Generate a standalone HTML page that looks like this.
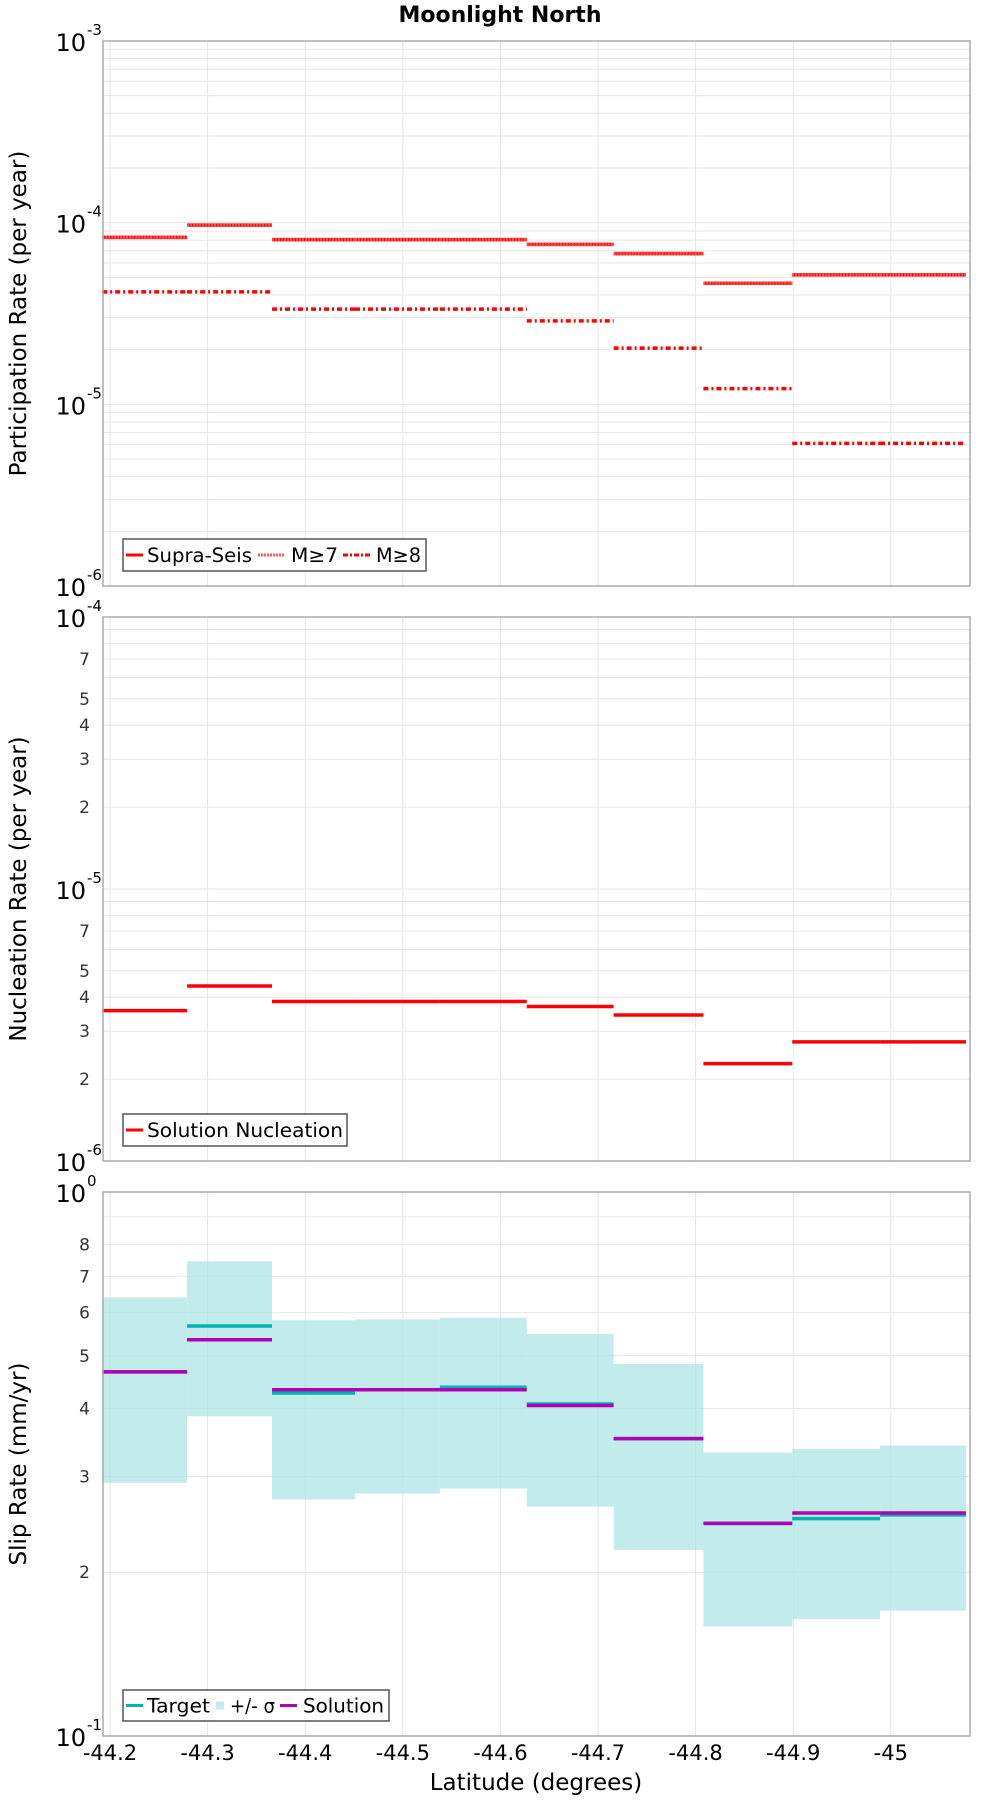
<!DOCTYPE html>
<html><head><meta charset="utf-8"><style>
html,body{margin:0;padding:0;background:#fff;}
svg{display:block;font-family:"DejaVu Sans","Liberation Sans",sans-serif;}
</style></head><body>
<svg id="chart" width="1000" height="1800" viewBox="0 0 1000 1800" xmlns="http://www.w3.org/2000/svg">
<text x="500" y="22" text-anchor="middle" font-size="22" font-weight="bold">Moonlight North</text>
<g id="g"></g>
</svg>
<script>
// bin edges (latitude)
const binEdges = [-44.192, -44.279, -44.366, -44.451, -44.538, -44.627, -44.716, -44.808, -44.899, -44.989, -45.077];
const xTicks = [-44.2, -44.3, -44.4, -44.5, -44.6, -44.7, -44.8, -44.9, -45.0];
const xTickLabels = ["-44.2","-44.3","-44.4","-44.5","-44.6","-44.7","-44.8","-44.9","-45"];
// participation
const supraSeis = [8.3e-5, 9.7e-5, 8.07e-5, 8.07e-5, 8.07e-5, 7.6e-5, 6.75e-5, 4.64e-5, 5.16e-5, 5.16e-5];
const m7 = [8.3e-5, 9.7e-5, 8.07e-5, 8.07e-5, 8.07e-5, 7.6e-5, 6.75e-5, 4.64e-5, 5.16e-5, 5.16e-5];
const m8 = [4.16e-5, 4.16e-5, 3.34e-5, 3.34e-5, 3.34e-5, 2.88e-5, 2.04e-5, 1.22e-5, 6.1e-6, 6.1e-6];
// nucleation
const nucleation = [3.57e-6, 4.40e-6, 3.86e-6, 3.86e-6, 3.86e-6, 3.70e-6, 3.44e-6, 2.28e-6, 2.74e-6, 2.74e-6];
// slip
const slipTarget = [0.467, 0.567, 0.427, 0.433, 0.4375, 0.4076, 0.352, 0.246, 0.251, 0.255];
const slipSolution = [0.467, 0.535, 0.433, 0.433, 0.433, 0.405, 0.352, 0.246, 0.257, 0.257];
const slipUpper = [0.640, 0.746, 0.581, 0.583, 0.587, 0.548, 0.483, 0.332, 0.337, 0.342];
const slipLower = [0.292, 0.387, 0.272, 0.279, 0.285, 0.264, 0.220, 0.159, 0.164, 0.170];

const NS = "http://www.w3.org/2000/svg";
const G = document.getElementById('g');
const L = 103, R = 970;
function xs(lat){ return 110 + (-44.2 - lat) / 0.1 * 97.6; }
function mk(tag, attrs, parent){ const e = document.createElementNS(NS, tag); for (const k in attrs) e.setAttribute(k, attrs[k]); (parent||G).appendChild(e); return e; }

function panel(name, top, bot, lo, hi, minorLabels, title){
  const g = mk('g', {});
  
  
  const ys = v => bot - (Math.log10(v) - lo) / (hi - lo) * (bot - top);
  mk('rect', {x:L, y:top, width:R-L, height:bot-top, fill:'#fff'}, g);
  const grid = mk('g', {stroke:'#e6e6e6', 'stroke-width':1}, g);
  
  
  xTicks.forEach(t => mk('line', {x1:xs(t), x2:xs(t), y1:top, y2:bot}, grid));
  for (let d = lo; d < hi; d++) {
    for (let m = 1; m <= 9; m++) {
      const v = m * Math.pow(10, d); const y = ys(v);
      if (m > 1) mk('line', {x1:L, x2:R, y1:y, y2:y}, grid);
      if (m > 1 && minorLabels.includes(m)) {
        const t = mk('text', {x:90, y:y+6, 'text-anchor':'end', 'font-size':17, fill:'#333'}, g);
        t.textContent = m;
        
        
      }
    }
  }
  for (let d = lo; d <= hi; d++) {
    const y = ys(Math.pow(10, d));
    mk('line', {x1:L, x2:R, y1:y, y2:y, stroke:'#e6e6e6'}, grid);
    const t = mk('text', {x:86, y:y+10, 'text-anchor':'end', 'font-size':24}, g);
    t.textContent = '10';
    
    
    const e = mk('text', {x:87, y:y-6, 'font-size':15}, g);
    e.textContent = '' + d;
    
    
  }
  const cy = (top + bot) / 2;
  const tt = mk('text', {x:0, y:0, transform:`translate(26,${cy}) rotate(-90)`, 'text-anchor':'middle', 'font-size':23}, g);
  tt.textContent = title;
  
  
  return {g, ys, top, bot};
}
function frame(p){ const r = mk('rect', {x:L, y:p.top, width:R-L, height:p.bot-p.top, fill:'none', stroke:'#aaa', 'stroke-width':1.5}, p.g);   }
function steps(p, vals, color, dash, name){
  vals.forEach((v, i) => {
    const y = p.ys(v);
    const l = mk('line', {x1:xs(binEdges[i]), x2:xs(binEdges[i+1]), y1:y, y2:y, stroke:color, 'stroke-width':3.5}, p.g);
    if (dash) l.setAttribute('stroke-dasharray', dash);
    
    
  });
}
// items: {label, color, dash, box, x1 (marker start), x2 (marker end), tx (text start), tw (text width)}
function legend(p, x, y, w, h, items){
  const lg = mk('g', {}, p.g);
  
  
  mk('rect', {x, y, width:w, height:h, fill:'#fff', stroke:'#555', 'stroke-width':1.5}, lg);
  const cyy = y + h/2;
  items.forEach(it => {
    if (it.box) mk('rect', {x:it.x1, y:cyy-4, width:it.x2-it.x1, height:8, fill:it.color}, lg);
    else { const s = mk('line', {x1:it.x1, x2:it.x2, y1:cyy, y2:cyy, stroke:it.color, 'stroke-width':3}, lg); if (it.dash) s.setAttribute('stroke-dasharray', it.dash); }
    const t = mk('text', {x:it.tx, y:cyy+7, 'font-size':19.5, textLength:it.tw, lengthAdjust:'spacingAndGlyphs'}, lg);
    t.textContent = it.label;
    
    
  });
}

// Panel 1
const p1 = panel('participation', 41, 586, -6, -3, [], 'Participation Rate (per year)');
steps(p1, supraSeis, '#ff0000', null, 'supra-seis');
steps(p1, m7, '#ff5050', '2,1', 'm7');
steps(p1, m8, '#ff0000', '5,3,2,3', 'm8');
legend(p1, 123, 539, 303, 32, [
  {label:'Supra-Seis', color:'#f00', x1:126, x2:143, tx:147, tw:105},
  {label:'M≥7', color:'#f55', dash:'2,1', x1:258, x2:285, tx:291, tw:47},
  {label:'M≥8', color:'#f00', dash:'5,2,2,2', x1:343, x2:370, tx:376, tw:45}]);
frame(p1);

// Panel 2
const p2 = panel('nucleation', 617, 1161, -6, -4, [2,3,4,5,7], 'Nucleation Rate (per year)');
steps(p2, nucleation, '#ff0000', null, 'solution-nucleation');
legend(p2, 123, 1114, 224, 32, [{label:'Solution Nucleation', color:'#f00', x1:126, x2:143, tx:147, tw:196}]);
frame(p2);

// Panel 3
const p3 = panel('slip', 1192, 1736, -1, 0, [2,3,4,5,6,7,8], 'Slip Rate (mm/yr)');
slipUpper.forEach((u, i) => {
  const r = mk('rect', {x:xs(binEdges[i]), y:p3.ys(u), width:xs(binEdges[i+1])-xs(binEdges[i]), height:p3.ys(slipLower[i])-p3.ys(u), fill:'#aee4e4', 'fill-opacity':0.75}, p3.g);
  
  
});
steps(p3, slipTarget, '#00b4b4', null, 'target');
steps(p3, slipSolution, '#b400b4', null, 'solution');
legend(p3, 123, 1690, 266, 31, [
  {label:'Target', color:'#00b4b4', x1:126, x2:143, tx:147, tw:63},
  {label:'+/- σ', color:'#c3ecec', box:true, x1:216, x2:224, tx:230, tw:45},
  {label:'Solution', color:'#b400b4', x1:280, x2:297, tx:303, tw:81}]);
frame(p3);

xTicks.forEach((t, i) => {
  const tx = mk('text', {x:xs(t), y:1760, 'text-anchor':'middle', 'font-size':21});
  tx.textContent = xTickLabels[i];
  
  
});
const xt = mk('text', {x:536, y:1790, 'text-anchor':'middle', 'font-size':23});
xt.textContent = 'Latitude (degrees)';


</script>
</body></html>
